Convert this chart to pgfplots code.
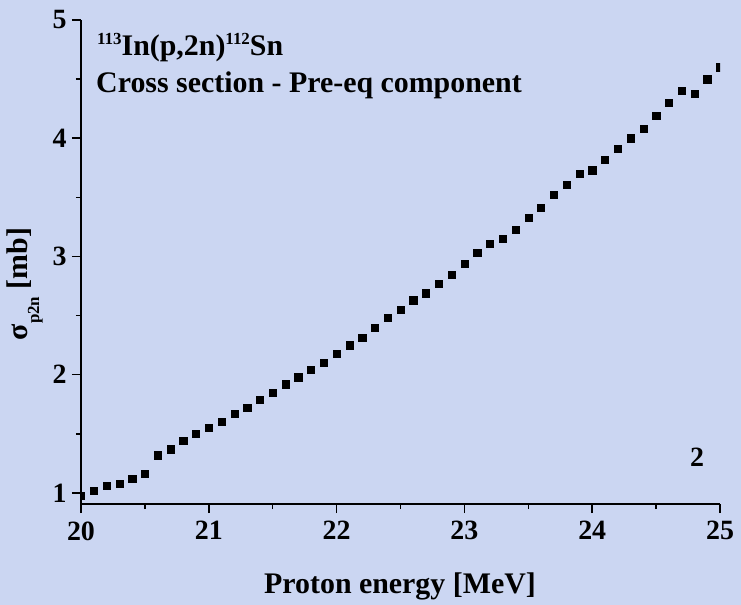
\documentclass[border=0pt]{standalone}
\usepackage{pgfplots}
\pgfplotsset{compat=1.18}
\usepackage{fontspec}
\setmainfont{Liberation Serif}
\definecolor{bgc}{RGB}{203,214,242}
\begin{document}
\begin{tikzpicture}
\useasboundingbox (0,0) rectangle (741bp,605bp);
\fill[bgc] (0,0) rectangle (741bp,605bp);
\begin{axis}[
  at={(81bp,101bp)}, anchor=south west,
  scale only axis, width=639bp, height=484bp,
  xmin=20, xmax=25, ymin=0.907, ymax=5.0,
  axis x line*=bottom, axis y line*=left,
  axis line style={line width=1.5bp,-},
  every tick/.style={line width=1.5bp,black},
  tick align=outside,
  major tick length=9bp, minor tick length=5bp,
  minor tick num=1,
  xtick={20,21,22,23,24,25}, ytick={1,2,3,4,5},
  /pgf/number format/assume math mode=true,
  tick label style={font=\fontsize{28}{28}\selectfont\bfseries},
  xticklabel style={yshift=-5bp},
  yticklabel style={xshift=-2bp},
  clip=true, clip marker paths=true,
]
\addplot[only marks, mark=square*, mark size=3.6bp, black] coordinates {
(20.0,0.98) (20.1,1.02) (20.2,1.06) (20.3,1.08) (20.4,1.12) (20.5,1.16)
(20.6,1.32) (20.7,1.37) (20.8,1.44) (20.9,1.50) (21.0,1.55) (21.1,1.60)
(21.2,1.67) (21.3,1.72) (21.4,1.79) (21.5,1.85) (21.6,1.92) (21.7,1.98)
(21.8,2.04) (21.9,2.10) (22.0,2.18) (22.1,2.25) (22.2,2.31) (22.3,2.40)
(22.4,2.48) (22.5,2.55) (22.6,2.63) (22.7,2.69) (22.8,2.77) (22.9,2.845)
(23.0,2.94) (23.1,3.03) (23.2,3.11) (23.3,3.15) (23.4,3.23) (23.5,3.33)
(23.6,3.415) (23.7,3.52) (23.8,3.61) (23.9,3.70) (24.0,3.73) (24.1,3.82)
(24.2,3.91) (24.3,4.00) (24.4,4.08) (24.5,4.19) (24.6,4.30) (24.7,4.40)
(24.8,4.375) (24.9,4.50) (25.0,4.60)
};
\end{axis}
\node[anchor=base west, inner sep=0pt, font=\fontsize{30}{30}\selectfont\bfseries] at (97bp,549bp)
  {\raisebox{11bp}{\fontsize{17}{17}\selectfont 113}In(p,2n)\raisebox{11bp}{\fontsize{17}{17}\selectfont 112}Sn};
\node[anchor=base west, inner sep=0pt, font=\fontsize{30}{30}\selectfont\bfseries] at (96bp,512bp)
  {Cross section - Pre-eq component};
\node[anchor=base, inner sep=0pt, font=\fontsize{28}{28}\selectfont\bfseries] at (697bp,138bp) {2};
\node[anchor=base, inner sep=0pt, font=\fontsize{30}{30}\selectfont\bfseries] at (400bp,12bp) {Proton energy [MeV]};
\node[anchor=base, rotate=90, inner sep=0pt, font=\fontsize{30}{30}\selectfont\bfseries] at (27bp,321bp)
  {σ\raisebox{-12bp}{\fontsize{17}{17}\selectfont p2n} [mb]};
\end{tikzpicture}
\end{document}
